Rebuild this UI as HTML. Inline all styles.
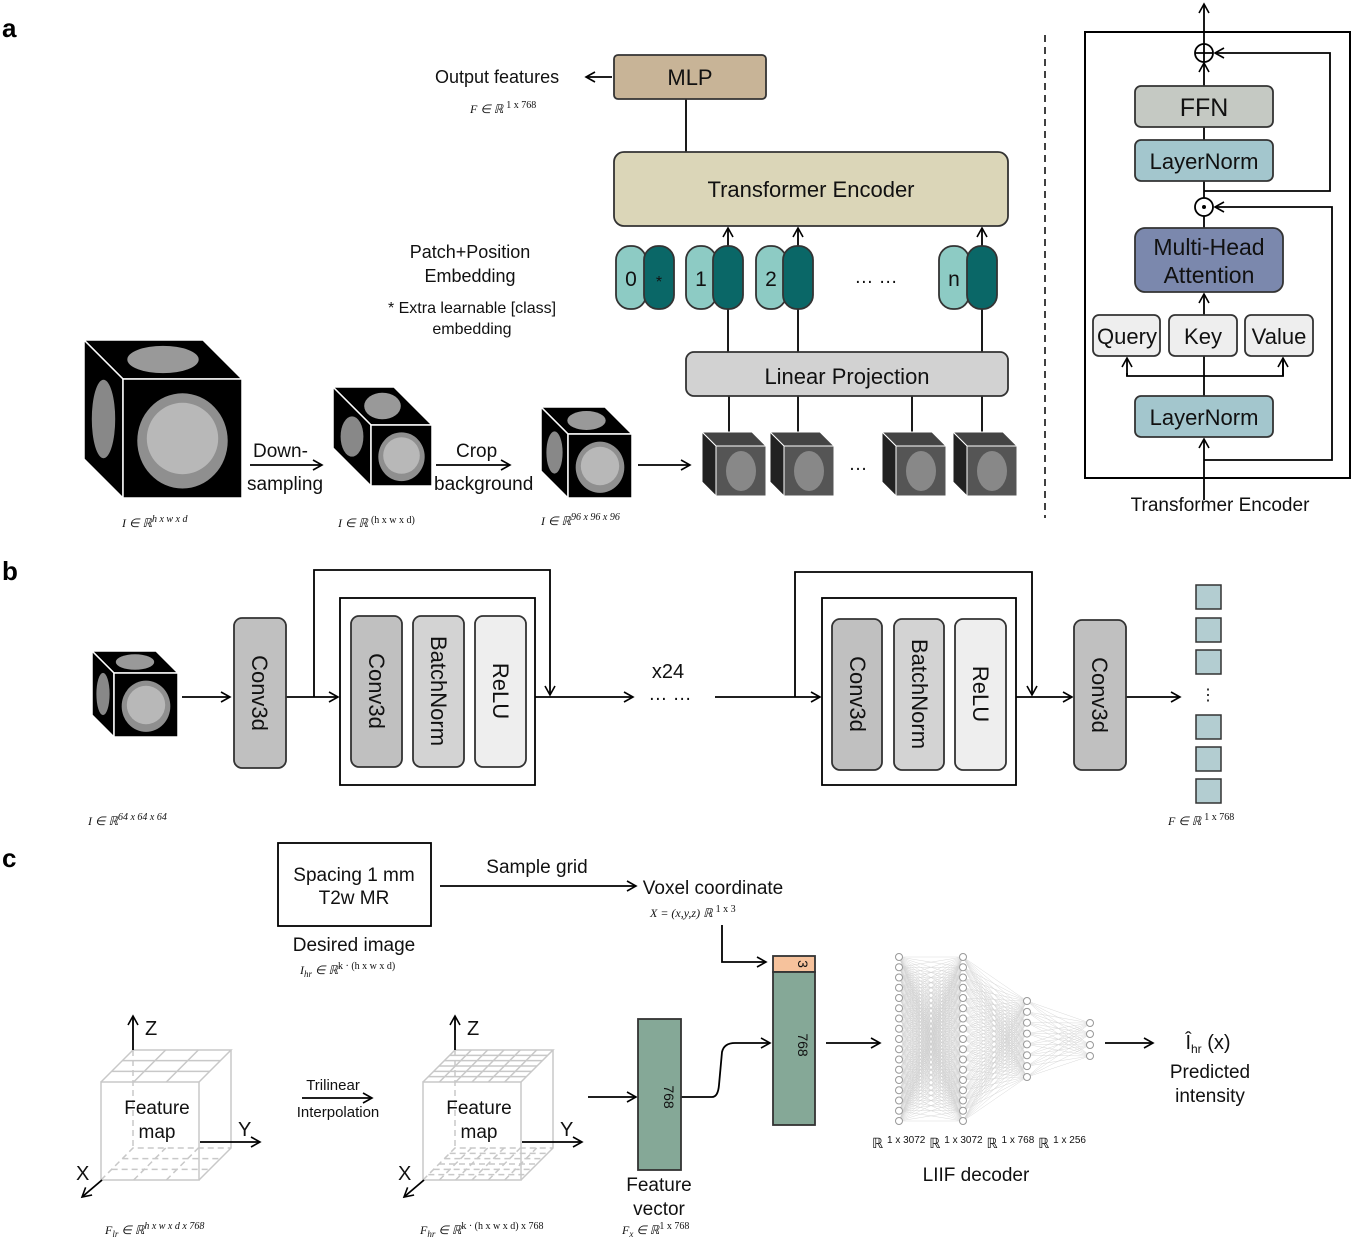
<!DOCTYPE html>
<html><head><meta charset="utf-8"><style>
html,body{margin:0;padding:0;background:#fff;}
svg{display:block;font-family:"Liberation Sans",Arial,sans-serif;font-size:19px;}
.t{fill:#111;}
.s{font-size:12px;font-style:italic;fill:#111;font-family:"Liberation Serif",serif;}
.b{font-size:26px;font-weight:bold;}
</style></head><body>
<svg id="sv" width="1353" height="1242" viewBox="0 0 1353 1242" xmlns="http://www.w3.org/2000/svg">
<defs>
<marker id="ar" markerWidth="12" markerHeight="12" refX="10" refY="6" orient="auto" markerUnits="userSpaceOnUse"><path d="M1,1 L10,6 L1,11" fill="none" stroke="#000" stroke-width="1.6"/></marker>
</defs>
<g stroke="#000" stroke-width="1.8" fill="none">
<line x1="612" y1="77" x2="586" y2="77" marker-end="url(#ar)"/>
<line x1="686" y1="99" x2="686" y2="152"/>
<line x1="728" y1="352" x2="728" y2="228" marker-end="url(#ar)"/>
<line x1="798" y1="352" x2="798" y2="228" marker-end="url(#ar)"/>
<line x1="982" y1="352" x2="982" y2="228" marker-end="url(#ar)"/>
<line x1="729" y1="396" x2="729" y2="432"/><line x1="798" y1="396" x2="798" y2="432"/>
<line x1="912" y1="396" x2="912" y2="432"/><line x1="982" y1="396" x2="982" y2="432"/>
<line x1="250" y1="465" x2="322" y2="465" marker-end="url(#ar)"/>
<line x1="436" y1="465" x2="510" y2="465" marker-end="url(#ar)"/>
<line x1="638" y1="465" x2="690" y2="465" marker-end="url(#ar)"/>
<line x1="1045" y1="35" x2="1045" y2="518" stroke-dasharray="7,5" stroke-width="1.5"/>
<rect x="1085" y="32" width="265" height="446" stroke-width="2"/>
<line x1="1204" y1="500" x2="1204" y2="439" marker-end="url(#ar)"/>
<line x1="1204" y1="396" x2="1204" y2="294" marker-end="url(#ar)"/>
<polyline points="1127,373 1127,376 1283,376 1283,360"/>
<line x1="1127" y1="376" x2="1127" y2="358" marker-end="url(#ar)"/>
<line x1="1283" y1="376" x2="1283" y2="358" marker-end="url(#ar)"/>
<line x1="1204" y1="228" x2="1204" y2="216"/>
<line x1="1204" y1="198" x2="1204" y2="181"/>
<line x1="1204" y1="140" x2="1204" y2="127"/>
<line x1="1204" y1="86" x2="1204" y2="63" marker-end="url(#ar)"/>
<line x1="1204" y1="44" x2="1204" y2="4" marker-end="url(#ar)"/>
<polyline points="1204,460 1332,460 1332,207 1215,207" marker-end="url(#ar)"/>
<polyline points="1204,191 1330,191 1330,53 1215,53" marker-end="url(#ar)"/>
<circle cx="1204" cy="53" r="9" fill="#fff"/><line x1="1195" y1="53" x2="1213" y2="53"/><line x1="1204" y1="44" x2="1204" y2="62"/>
<circle cx="1204" cy="207" r="9" fill="#fff"/>
<line x1="182" y1="697" x2="230" y2="697" marker-end="url(#ar)"/>
<line x1="286" y1="697" x2="338" y2="697" marker-end="url(#ar)"/>
<polyline points="314,697 314,570 550,570 550,695" marker-end="url(#ar)"/>
<line x1="535" y1="697" x2="633" y2="697" marker-end="url(#ar)"/>
<line x1="715" y1="697" x2="820" y2="697" marker-end="url(#ar)"/>
<polyline points="795,697 795,572 1032,572 1032,695" marker-end="url(#ar)"/>
<line x1="1016" y1="697" x2="1072" y2="697" marker-end="url(#ar)"/>
<line x1="1126" y1="697" x2="1180" y2="697" marker-end="url(#ar)"/>
<rect x="340" y="598" width="195" height="187"/>
<rect x="822" y="598" width="194" height="187"/>
<rect x="278" y="843" width="153" height="83"/>
<line x1="440" y1="886" x2="636" y2="886" marker-end="url(#ar)"/>
<polyline points="722,925 722,962 766,962" marker-end="url(#ar)"/>
<line x1="588" y1="1097" x2="636" y2="1097" marker-end="url(#ar)"/>
<path d="M681,1097 L712,1097 Q718,1097 719,1085 L722,1052 Q724,1043 735,1043 L770,1043" marker-end="url(#ar)"/>
<line x1="826" y1="1043" x2="880" y2="1043" marker-end="url(#ar)"/>
<line x1="1105" y1="1043" x2="1153" y2="1043" marker-end="url(#ar)"/>
<line x1="302" y1="1098" x2="372" y2="1098" marker-end="url(#ar)"/>
</g>
<circle cx="1204" cy="207" r="2" fill="#000"/>
<g stroke="#333" stroke-width="1.8">
<rect x="614" y="55" width="152" height="44" rx="4" fill="#c8b497"/>
<rect x="614" y="152" width="394" height="74" rx="10" fill="#dbd6b8"/>
<rect x="686" y="352" width="322" height="44" rx="8" fill="#d2d2d2"/>
<rect x="1135" y="86" width="138" height="41" rx="6" fill="#c5c9c3"/>
<rect x="1135" y="140" width="138" height="41" rx="6" fill="#a3c6cd"/>
<rect x="1135" y="228" width="148" height="64" rx="10" fill="#7b88ad"/>
<rect x="1093" y="315" width="67" height="41" rx="6" fill="#eeeeee"/>
<rect x="1169" y="315" width="68" height="41" rx="6" fill="#eeeeee"/>
<rect x="1245" y="315" width="68" height="41" rx="6" fill="#eeeeee"/>
<rect x="1135" y="396" width="138" height="41" rx="6" fill="#a3c6cd"/>
<rect x="616" y="246" width="30" height="63" rx="14" fill="#8dcbc4"/><rect x="644" y="246" width="30" height="63" rx="14" fill="#0a6767"/>
<rect x="686" y="246" width="30" height="63" rx="14" fill="#8dcbc4"/><rect x="713" y="246" width="30" height="63" rx="14" fill="#0a6767"/>
<rect x="756" y="246" width="30" height="63" rx="14" fill="#8dcbc4"/><rect x="783" y="246" width="30" height="63" rx="14" fill="#0a6767"/>
<rect x="939" y="246" width="30" height="63" rx="14" fill="#8dcbc4"/><rect x="967" y="246" width="30" height="63" rx="14" fill="#0a6767"/>
<rect x="234" y="618" width="52" height="150" rx="8" fill="#c0c0c0"/>
<rect x="351" y="616" width="51" height="151" rx="8" fill="#c0c0c0"/>
<rect x="413" y="616" width="51" height="151" rx="8" fill="#d3d3d3"/>
<rect x="475" y="616" width="51" height="151" rx="8" fill="#eeeeee"/>
<rect x="832" y="619" width="50" height="151" rx="8" fill="#c0c0c0"/>
<rect x="894" y="619" width="50" height="151" rx="8" fill="#d3d3d3"/>
<rect x="955" y="619" width="51" height="151" rx="8" fill="#eeeeee"/>
<rect x="1074" y="620" width="52" height="150" rx="8" fill="#c0c0c0"/>
<g fill="#b3cdd1" stroke-width="1.5">
<rect x="1196" y="585" width="25" height="24"/><rect x="1196" y="618" width="25" height="24"/><rect x="1196" y="650" width="25" height="24"/>
<rect x="1196" y="715" width="25" height="24"/><rect x="1196" y="747" width="25" height="24"/><rect x="1196" y="779" width="25" height="24"/>
</g>
<rect x="773" y="956" width="42" height="16" fill="#f6c29c"/>
<rect x="773" y="972" width="42" height="153" fill="#85a897"/>
<rect x="638" y="1019" width="43" height="151" fill="#85a897"/>
</g>
<g id="cubes"></g>
<g id="wire" stroke="#c8c8c8" stroke-width="1.5" fill="none"></g>
<g id="nn" stroke="#cfcfcf" stroke-width="0.4" fill="none"></g>
<g stroke="#000" stroke-width="1.8" fill="none">
<line x1="133" y1="1050" x2="133" y2="1016" marker-end="url(#ar)"/>
<line x1="200" y1="1142" x2="260" y2="1142" marker-end="url(#ar)"/>
<line x1="102" y1="1180" x2="82" y2="1197" marker-end="url(#ar)"/>
<line x1="455" y1="1050" x2="455" y2="1016" marker-end="url(#ar)"/>
<line x1="522" y1="1142" x2="582" y2="1142" marker-end="url(#ar)"/>
<line x1="424" y1="1180" x2="404" y2="1197" marker-end="url(#ar)"/>
</g>
<text class="b" x="2" y="37">a</text><text class="b" x="2" y="580">b</text><text class="b" x="2" y="867">c</text>
<text class="t" x="690" y="85" text-anchor="middle" font-size="22">MLP</text>
<text class="t" x="435" y="83" font-size="18">Output features</text>
<text class="s" x="470" y="113">F ∈ ℝ <tspan font-style="normal" font-size="10" dy="-5">1 x 768</tspan></text>
<text class="t" x="811" y="197" text-anchor="middle" font-size="22">Transformer Encoder</text>
<text class="t" x="847" y="384" text-anchor="middle" font-size="22">Linear Projection</text>
<text class="t" x="470" y="258" text-anchor="middle" font-size="18">Patch+Position</text>
<text class="t" x="470" y="282" text-anchor="middle" font-size="18">Embedding</text>
<text class="t" x="472" y="313" text-anchor="middle" font-size="16">* Extra learnable [class]</text>
<text class="t" x="472" y="334" text-anchor="middle" font-size="16">embedding</text>
<g font-size="21" fill="#111" text-anchor="middle"><text x="631" y="286">0</text><text x="659" y="287" font-size="16">*</text><text x="701" y="286">1</text><text x="771" y="286">2</text><text x="954" y="286">n</text></g>
<text class="t" x="876" y="283" text-anchor="middle">… …</text>
<text class="t" x="858" y="470" text-anchor="middle">…</text>
<text class="t" x="253" y="457" font-size="19">Down-</text>
<text class="t" x="247" y="490" font-size="19">sampling</text>
<text class="t" x="456" y="457" font-size="19">Crop</text>
<text class="t" x="434" y="490" font-size="19">background</text>
<text class="s" x="122" y="527">I ∈ ℝ<tspan font-size="10" dy="-5">h x w x d</tspan></text>
<text class="s" x="338" y="527">I ∈ ℝ <tspan font-style="normal" font-size="10" dy="-4">(h x w x d)</tspan></text>
<text class="s" x="541" y="525">I ∈ ℝ<tspan font-size="10" dy="-5">96 x 96 x 96</tspan></text>
<g fill="#111" text-anchor="middle" font-size="22"><text x="1204" y="116" font-size="25">FFN</text><text x="1204" y="169">LayerNorm</text><text x="1209" y="255" font-size="23">Multi-Head</text><text x="1209" y="283" font-size="23">Attention</text><text x="1127" y="344">Query</text><text x="1203" y="344">Key</text><text x="1279" y="344">Value</text><text x="1204" y="425">LayerNorm</text></g>
<text class="t" x="1220" y="511" text-anchor="middle" font-size="19">Transformer Encoder</text>
<g fill="#111" font-size="22">
<text transform="translate(252,693) rotate(90)" text-anchor="middle">Conv3d</text>
<text transform="translate(369,691) rotate(90)" text-anchor="middle">Conv3d</text>
<text transform="translate(431,691) rotate(90)" text-anchor="middle">BatchNorm</text>
<text transform="translate(493,691) rotate(90)" text-anchor="middle">ReLU</text>
<text transform="translate(850,694) rotate(90)" text-anchor="middle">Conv3d</text>
<text transform="translate(912,694) rotate(90)" text-anchor="middle">BatchNorm</text>
<text transform="translate(973,694) rotate(90)" text-anchor="middle">ReLU</text>
<text transform="translate(1092,695) rotate(90)" text-anchor="middle">Conv3d</text>
</g>
<text class="t" x="668" y="678" text-anchor="middle" font-size="20">x24</text>
<text class="t" x="670" y="700" text-anchor="middle">… …</text>
<text class="t" x="1208" y="700" text-anchor="middle" font-size="16">⋮</text>
<text class="s" x="88" y="825">I ∈ ℝ<tspan font-size="10" dy="-5">64 x 64 x 64</tspan></text>
<text class="s" x="1168" y="825">F ∈ ℝ <tspan font-style="normal" font-size="10" dy="-5">1 x 768</tspan></text>
<g fill="#111" font-size="19">
<text x="354" y="881" text-anchor="middle">Spacing 1 mm</text><text x="354" y="904" text-anchor="middle">T2w MR</text>
<text x="354" y="951" text-anchor="middle">Desired image</text>
<text x="537" y="873" text-anchor="middle">Sample grid</text>
<text x="713" y="894" text-anchor="middle">Voxel coordinate</text>
<text x="157" y="1114" text-anchor="middle">Feature</text><text x="157" y="1138" text-anchor="middle">map</text>
<text x="479" y="1114" text-anchor="middle">Feature</text><text x="479" y="1138" text-anchor="middle">map</text>
<text x="145" y="1035" font-size="20">Z</text><text x="467" y="1035" font-size="20">Z</text>
<text x="238" y="1136" font-size="20">Y</text><text x="560" y="1136" font-size="20">Y</text>
<text x="76" y="1180" font-size="20">X</text><text x="398" y="1180" font-size="20">X</text>
<text x="659" y="1191" text-anchor="middle">Feature</text><text x="659" y="1215" text-anchor="middle">vector</text>
<text x="976" y="1181" text-anchor="middle">LIIF decoder</text>
<text x="1208" y="1049" text-anchor="middle" font-size="20">Î<tspan font-size="12" dy="4">hr</tspan><tspan dy="-4"> (x)</tspan></text>
<text x="1210" y="1078" text-anchor="middle">Predicted</text><text x="1210" y="1102" text-anchor="middle">intensity</text>
</g>
<text x="333" y="1090" text-anchor="middle" font-size="15" fill="#111">Trilinear</text>
<text x="338" y="1117" text-anchor="middle" font-size="15" fill="#111">Interpolation</text>
<text class="s" x="300" y="974">I<tspan font-size="9" dy="3">hr</tspan><tspan dy="-3"> ∈ ℝ</tspan><tspan font-style="normal" font-size="10" dy="-5">k · (h x w x d)</tspan></text>
<text class="s" x="650" y="917">X = (x,y,z) ℝ <tspan font-style="normal" font-size="10" dy="-5">1 x 3</tspan></text>
<text class="s" x="105" y="1234">F<tspan font-size="9" dy="3">lr</tspan><tspan dy="-3"> ∈ ℝ</tspan><tspan font-size="10" dy="-5">h x w x d x 768</tspan></text>
<text class="s" x="420" y="1234">F<tspan font-size="9" dy="3">hr</tspan><tspan dy="-3"> ∈ ℝ</tspan><tspan font-style="normal" font-size="10" dy="-5">k · (h x w x d) x 768</tspan></text>
<text class="s" x="622" y="1234">F<tspan font-size="9" dy="3">x</tspan><tspan dy="-3"> ∈ ℝ</tspan><tspan font-style="normal" font-size="10" dy="-5">1 x 768</tspan></text>
<g font-size="14" fill="#111"><text transform="translate(798,964) rotate(90)" text-anchor="middle">3</text>
<text transform="translate(798,1045) rotate(90)" text-anchor="middle">768</text>
<text transform="translate(664,1097) rotate(90)" text-anchor="middle">768</text></g>
<text x="872" y="1148" font-size="14" fill="#111">ℝ <tspan font-size="10" dy="-5">1 x 3072</tspan><tspan dy="5"> ℝ </tspan><tspan font-size="10" dy="-5">1 x 3072</tspan><tspan dy="5"> ℝ </tspan><tspan font-size="10" dy="-5">1 x 768</tspan><tspan dy="5">  ℝ </tspan><tspan font-size="10" dy="-5">1 x 256</tspan></text>
</svg>
<script>
var NS="http://www.w3.org/2000/svg";
function el(p,t,a){var e=document.createElementNS(NS,t);for(var k in a)e.setAttribute(k,a[k]);p.appendChild(e);return e;}
var cubes=document.getElementById('cubes');
function bcube(x,y,s,d){
 var bx=x-d,by=y-d;
 el(cubes,'polygon',{points:[bx,by,bx+s,by,x+s,y,x,y].join(','),fill:'#000',stroke:'#fff','stroke-width':1.5});
 el(cubes,'polygon',{points:[bx,by,x,y,x,y+s,bx,by+s].join(','),fill:'#000',stroke:'#fff','stroke-width':1.5});
 el(cubes,'rect',{x:x,y:y,width:s,height:s,fill:'#000',stroke:'#fff','stroke-width':1.5});
 el(cubes,'ellipse',{cx:x+s*0.5,cy:y+s*0.52,rx:s*0.38,ry:s*0.4,fill:'#8f8f8f'});
 el(cubes,'ellipse',{cx:x+s*0.5,cy:y+s*0.5,rx:s*0.3,ry:s*0.3,fill:'#b8b8b8'});
 el(cubes,'ellipse',{cx:bx+s*0.5+d*0.5,cy:by+d*0.5,rx:s*0.3,ry:d*0.35,fill:'#999'});
 el(cubes,'ellipse',{cx:bx+d*0.5,cy:by+s*0.5+d*0.5,rx:d*0.3,ry:s*0.33,fill:'#888'});
}
bcube(123,379,119,39);bcube(371,425,61,38);bcube(568,434,64,27);
bcube(114,673,64,22);
function patch(x,y,s,d){
 el(cubes,'polygon',{points:[x-d,y-d,x+s-d,y-d,x+s,y,x,y].join(','),fill:'#444',stroke:'#fff'});
 el(cubes,'polygon',{points:[x-d,y-d,x,y,x,y+s,x-d,y+s-d].join(','),fill:'#222',stroke:'#fff'});
 el(cubes,'rect',{x:x,y:y,width:s,height:s,fill:'#555',stroke:'#fff'});
 el(cubes,'ellipse',{cx:x+s*0.5,cy:y+s*0.5,rx:s*0.3,ry:s*0.4,fill:'#aaa',opacity:0.6});
}
patch(716,446,50,14);patch(784,446,50,14);patch(896,446,50,14);patch(967,446,50,14);
var w=document.getElementById('wire');
function wcube(fx,fy,n){
 var s=98,d=32,bx=fx+d,by=fy-d;
 el(w,'rect',{x:fx,y:fy,width:s,height:s});
 el(w,'polyline',{points:[fx,fy,bx,by,bx+s,by,fx+s,fy].join(',')});
 el(w,'polyline',{points:[bx+s,by,bx+s,by+s,fx+s,fy+s].join(',')});
 el(w,'line',{x1:bx,y1:by,x2:bx,y2:by+s,'stroke-dasharray':'6,4'});
 el(w,'polyline',{points:[fx,fy+s,bx,by+s,bx+s,by+s].join(','),'stroke-dasharray':'6,4'});
 for(var i=1;i<n;i++){var t=i/n;
  el(w,'line',{x1:fx+s*t,y1:fy,x2:bx+s*t,y2:by});
  el(w,'line',{x1:fx+d*t,y1:fy-d*t,x2:fx+s+d*t,y2:fy-d*t});
  el(w,'line',{x1:fx+s*t,y1:fy+s,x2:bx+s*t,y2:by+s,'stroke-dasharray':'6,4'});
  el(w,'line',{x1:fx+d*t,y1:fy+s-d*t,x2:fx+s+d*t,y2:fy+s-d*t,'stroke-dasharray':'6,4'});
 }
}
wcube(101,1082,3);wcube(423,1082,6);
var nn=document.getElementById('nn');
function lay(x,n,y0,y1){var a=[];for(var i=0;i<n;i++)a.push([x,y0+(y1-y0)*i/(n-1)]);return a;}
var L=[lay(899,17,957,1121),lay(963,17,957,1121),lay(1027,8,1001,1077),lay(1090,4,1023,1056)];
for(var l=0;l<3;l++)for(var i=0;i<L[l].length;i++)for(var j=0;j<L[l+1].length;j++)
 el(nn,'line',{x1:L[l][i][0],y1:L[l][i][1],x2:L[l+1][j][0],y2:L[l+1][j][1]});
L.forEach(function(a){a.forEach(function(p){el(nn,'circle',{cx:p[0],cy:p[1],r:3.5,fill:'#fff',stroke:'#999','stroke-width':1});});});
</script>
</body></html>
